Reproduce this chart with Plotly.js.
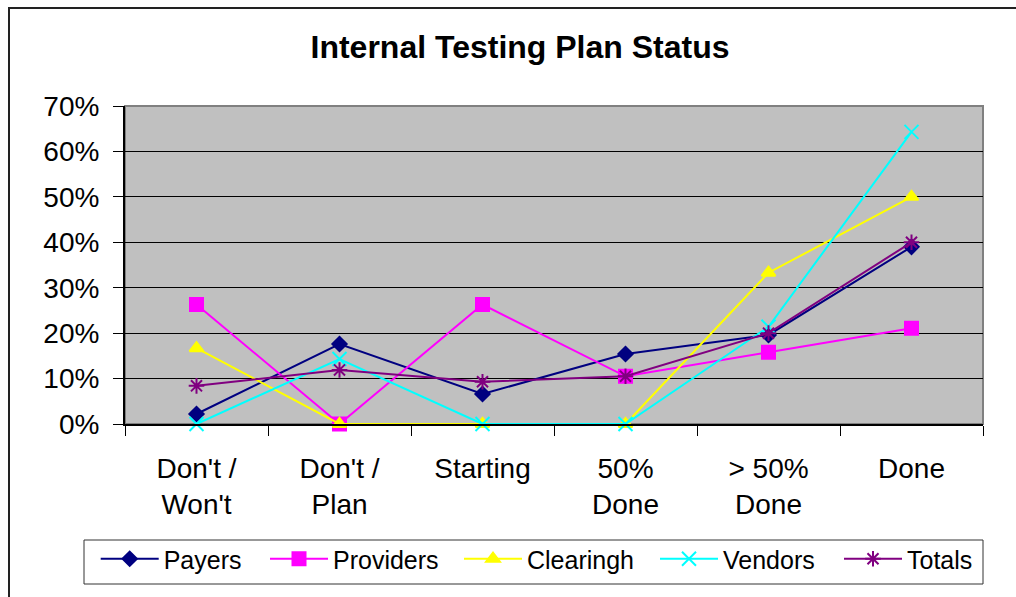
<!DOCTYPE html>
<html>
<head>
<meta charset="utf-8">
<script src="https://cdn.plot.ly/plotly-3.0.1.min.js"></script>
<style>
  html, body { margin: 0; padding: 0; background: #fff; overflow: hidden; }
  #wrap { position: relative; width: 1016px; height: 597px; }
  #chart { width: 1016px; height: 597px; }
  #frame { position: absolute; left: 8px; top: 7px; width: 1100px; height: 700px;
           border: 2px solid #222; pointer-events: none; }
</style>
</head>
<body>
<div id="wrap">
  <div id="chart"></div>
  <div id="frame"></div>
</div>
<script>
// Categories (x tick labels)
const categories = ["Don't /<br>Won't", "Don't /<br>Plan", "Starting", "50%<br>Done", "&gt; 50%<br>Done", "Done"];

// Series values (percent)
const payers    = [2.2, 17.6, 6.6, 15.4, 19.6, 39.0];
const providers = [26.3, 0.0, 26.3, 10.5, 15.8, 21.1];
const clearingh = [16.7, 0.0, 0.0, 0.0, 33.3, 50.0];
const vendors   = [0.0, 14.3, 0.0, 0.0, 21.4, 64.3];
const totals    = [8.4, 11.9, 9.3, 10.5, 20.0, 40.0];

// Y tick values
const yTicks = [0, 10, 20, 30, 40, 50, 60, 70];

const FONT = '"Liberation Sans", Arial, Helvetica, sans-serif';

function series(name, y, color, symbol, size, legendId) {
  return {
    type: 'scatter', mode: 'lines+markers', name: name,
    x: categories, y: y,
    legend: legendId,
    line: { color: color, width: 2 },
    marker: { color: color, symbol: symbol, size: size, line: { color: color, width: 2 } },
    cliponaxis: false
  };
}

const data = [
  series('Payers', payers, '#000080', 'diamond', 11, 'legend'),
  series('Providers', providers, '#FF00FF', 'square', 13, 'legend2'),
  series('Clearingh', clearingh, '#FFFF00', 'triangle-up', 12, 'legend3'),
  series('Vendors', vendors, '#00FFFF', 'x-thin-open', 14, 'legend4'),
  series('Totals', totals, '#800080', 'asterisk-open', 13, 'legend5')
];

const L = 125, R = 983, T = 106, B = 424, W = 1016, H = 597;
const pw = R - L, ph = B - T;
const px = v => (v - L) / pw;
const py = v => (B - v) / ph;

function legendAt(xPix) {
  return {
    orientation: 'h',
    xref: 'paper', yref: 'paper',
    x: px(xPix), xanchor: 'left',
    y: py(536), yanchor: 'top',
    bgcolor: 'rgba(0,0,0,0)',
    borderwidth: 0,
    itemwidth: 58,
    font: { family: FONT, size: 25, color: '#000' }
  };
}

const layout = {
  width: W, height: H,
  margin: { l: L, r: W - R, t: T, b: H - B, pad: 0 },
  paper_bgcolor: '#ffffff',
  plot_bgcolor: '#C0C0C0',
  font: { family: FONT, color: '#000', size: 28 },
  title: {
    text: '<b>Internal Testing Plan Status</b>',
    font: { family: FONT, size: 32, color: '#000' },
    xref: 'container', yref: 'container',
    x: 520 / W, xanchor: 'center',
    y: 1 - 47 / H, yanchor: 'middle'
  },
  xaxis: {
    type: 'category',
    range: [-0.5, 5.5],
    tickson: 'boundaries',
    ticks: 'outside', ticklen: 10, tickwidth: 1, tickcolor: '#000',
    showgrid: false,
    showline: true, linecolor: '#000', linewidth: 2,
    tickfont: { family: FONT, size: 28, color: '#000' },
    ticklabelstandoff: 18,
    fixedrange: true
  },
  yaxis: {
    range: [0, 70],
    tickmode: 'array', tickvals: yTicks,
    ticktext: yTicks.map(v => v + '%'),
    ticks: 'outside', ticklen: 10, tickwidth: 1, tickcolor: '#000',
    showgrid: true, gridcolor: '#000', gridwidth: 1,
    zeroline: true, zerolinecolor: '#000', zerolinewidth: 2,
    showline: true, linecolor: '#000', linewidth: 2,
    tickfont: { family: FONT, size: 28, color: '#000' },
    ticklabelstandoff: 8,
    fixedrange: true
  },
  showlegend: true,
  legend: legendAt(95.7),
  legend2: legendAt(265),
  legend3: legendAt(459),
  legend4: legendAt(655),
  legend5: legendAt(839),
  shapes: [
    { type: 'rect', xref: 'paper', yref: 'paper', x0: 0, x1: 1, y0: 0, y1: 1,
      line: { color: '#808080', width: 2 }, layer: 'below' },
    { type: 'rect', xref: 'paper', yref: 'paper',
      x0: px(84), x1: px(983), y0: py(584), y1: py(540),
      line: { color: '#333', width: 1 }, fillcolor: 'rgba(0,0,0,0)', layer: 'above' }
  ]
};

Plotly.newPlot('chart', data, layout, { displayModeBar: false, staticPlot: true });
</script>
</body>
</html>
